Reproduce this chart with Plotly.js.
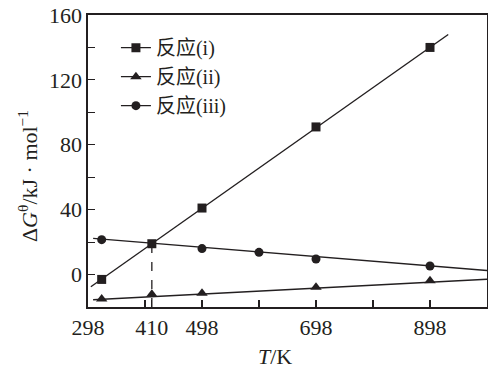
<!DOCTYPE html>
<html><head><meta charset="utf-8">
<script src="https://cdn.plot.ly/plotly-3.0.1.min.js"></script>
<style>html,body{margin:0;padding:0;background:#fff}#c{width:488px;height:365px}</style>
</head><body><div id="c"></div>
<script>
// data
const names = ['反应(i)', '反应(ii)', '反应(iii)'];
const T_i = [322, 410, 498, 698, 898];
const G_i = [-3, 19, 41, 91, 140];
const T_ii = [322, 410, 498, 698, 898];
const G_ii = [-15, -12.2, -11.5, -7.8, -3.8];
const T_iii = [322, 498, 598, 698, 898];
const G_iii = [21.5, 16, 13.7, 9.6, 5.3];
// fitted straight lines (end points)
const fitT_i = [303, 930];
const fitG_i = [-7.5, 148];
const fitT_ii = [307, 998];
const fitG_ii = [-15.5, -2.9];
const fitT_iii = [307, 998];
const fitG_iii = [22.3, 2.5];
// dashed drop line at the intersection
const dropT = [410, 410];
const dropG = [-20, 19];
// axis ticks
const xTickVals = [298, 398, 410, 498, 598, 698, 798, 898];
const xTickText = ['298', ' ', '410', '498', ' ', '698', ' ', '898'];
const yTickVals = [-20, 0, 20, 40, 60, 80, 100, 120, 140, 160];
const yTickText = [' ', '0', ' ', '40', ' ', '80', ' ', '120', ' ', '160'];

const ink = '#231f20';
const symbols = ['square', 'triangle-up', 'circle'];
const sizes = [9, 10, 9];
const font = 'Liberation Serif, Noto Sans CJK SC, serif';

const traces = [];
const fits = [[fitT_i, fitG_i], [fitT_ii, fitG_ii], [fitT_iii, fitG_iii]];
fits.forEach(f => traces.push({x: f[0], y: f[1], mode: 'lines', line: {color: ink, width: 1.4}, showlegend: false, hoverinfo: 'skip'}));
traces.push({x: dropT, y: dropG, mode: 'lines', line: {color: ink, width: 1.3, dash: 'dash'}, showlegend: false});
const pts = [[T_i, G_i], [T_ii, G_ii], [T_iii, G_iii]];
pts.forEach((p, i) => traces.push({x: p[0], y: p[1], mode: 'markers', marker: {symbol: symbols[i], size: sizes[i], color: ink}, showlegend: false}));
names.forEach((n, i) => traces.push({x: [null], y: [null], name: n, mode: 'lines+markers', line: {color: ink, width: 1.4}, marker: {symbol: symbols[i], size: sizes[i], color: ink}}));

const layout = {
  width: 488, height: 365,
  margin: {l: 88, r: 1, t: 15, b: 58},
  paper_bgcolor: '#fff', plot_bgcolor: '#fff',
  font: {family: font, size: 22, color: ink},
  showlegend: true,
  legend: {x: 0.07, y: 0.955, xanchor: 'left', yanchor: 'top', bgcolor: 'rgba(0,0,0,0)', font: {family: font, size: 20, color: ink}, tracegroupgap: 0, itemwidth: 30},
  xaxis: {range: [298, 998], tickvals: xTickVals, ticktext: xTickText, tickangle: 0, ticks: 'inside', ticklen: 7, tickcolor: ink, tickwidth: 1.2,
    showline: true, linecolor: ink, linewidth: 1.6, mirror: true, showgrid: false, zeroline: false, automargin: false,
    tickfont: {family: font, size: 22, color: ink}},
  yaxis: {range: [-20, 160], tickvals: yTickVals, ticktext: yTickText, tickangle: 0, ticks: 'inside', ticklen: 7, tickcolor: ink, tickwidth: 1.2,
    showline: true, linecolor: ink, linewidth: 1.6, mirror: true, showgrid: false, zeroline: false, automargin: false,
    tickfont: {family: font, size: 22, color: ink}},
  annotations: [
    {text: 'Δ<i>G</i><sup>θ</sup>/kJ · mol<sup>−1</sup>', xref: 'paper', yref: 'paper', x: -0.15, y: 0.449, xanchor: 'center', yanchor: 'middle', textangle: -90, showarrow: false, font: {family: font, size: 22, color: ink}},
    {text: '<i>T</i>/K', xref: 'paper', yref: 'paper', x: 0.4675, y: -0.171, xanchor: 'center', yanchor: 'middle', showarrow: false, font: {family: font, size: 22, color: ink}}
  ]
};
Plotly.newPlot('c', traces, layout, {staticPlot: true, displayModeBar: false});
</script></body></html>
